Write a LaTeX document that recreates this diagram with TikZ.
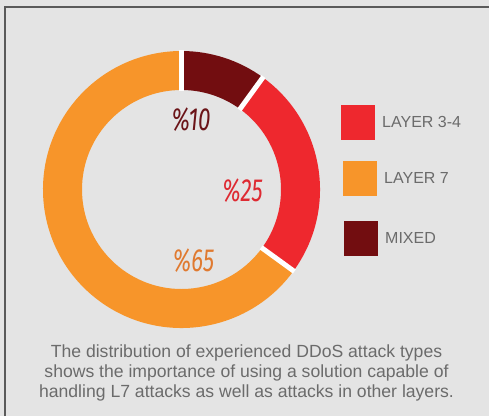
\documentclass[tikz,border=0pt]{standalone}
\usepackage{fontspec}
\setmainfont{Liberation Sans}
\newfontfamily\pctfont{Fira Sans}
\usepackage{graphicx}
\definecolor{bgGray}{HTML}{E4E4E4}
\definecolor{frameGray}{HTML}{5A5A5A}
\definecolor{textGray}{HTML}{6B6B6B}
\definecolor{segOrange}{HTML}{F7952A}
\definecolor{segRed}{HTML}{EE282E}
\definecolor{segDark}{HTML}{720D10}
\definecolor{pctDark}{HTML}{6B1418}
\definecolor{pctRed}{HTML}{DE2A32}
\definecolor{pctOrange}{HTML}{E07A30}
\begin{document}
\begin{tikzpicture}[x=1pt,y=1pt,
  legendbox/.style={minimum width=34pt,minimum height=35pt,inner sep=0pt,draw=none},
  legendtext/.style={anchor=west,inner sep=0pt,text=textGray,font=\fontsize{16}{18}\selectfont},
  pcttext/.style={inner sep=0pt,font=\pctfont\itshape\fontsize{32}{32}\selectfont},
  gapline/.style={white,line width=5pt}]
\def\rin{99.5}
\def\rout{138.5}
% page and frame
\fill[bgGray] (0,0) rectangle (489,416);
\useasboundingbox (0,0) rectangle (489,416);
\draw[frameGray,line width=1.3pt] (5,0) -- (5,409) -- (489,409);
% donut centre
\coordinate (c) at (181.5,226.5);
% ring segments (clockwise from the top)
\fill[segDark] ([shift={(90:\rout)}]c) arc[start angle=90,end angle=54,radius=\rout]
  -- ([shift={(54:\rin)}]c) arc[start angle=54,end angle=90,radius=\rin] -- cycle;
\fill[segRed] ([shift={(54:\rout)}]c) arc[start angle=54,end angle=-36,radius=\rout]
  -- ([shift={(-36:\rin)}]c) arc[start angle=-36,end angle=54,radius=\rin] -- cycle;
\fill[segOrange] ([shift={(-36:\rout)}]c) arc[start angle=-36,end angle=-270,radius=\rout]
  -- ([shift={(90:\rin)}]c) arc[start angle=90,end angle=324,radius=\rin] -- cycle;
% white separators between segments
\foreach \a in {90,54,-36}
  \draw[gapline] ([shift={(\a:\rin-1)}]c) -- ([shift={(\a:\rout+1)}]c);
% percentage labels
\node[pcttext,text=pctDark] (p10) at (191,296.5) {\scalebox{0.7}[1]{\%10}};
\node[pcttext,text=pctRed] (p25) at (242.5,225.5) {\scalebox{0.7}[1]{\%25}};
\node[pcttext,text=pctOrange] (p65) at (193.5,155.5) {\scalebox{0.7}[1]{\%65}};
% legend
\node[legendbox,fill=segRed] (l1) at (358,293.5) {};
\node[legendbox,fill=segOrange] (l2) at (360,237.5) {};
\node[legendbox,fill=segDark] (l3) at (361,177.5) {};
\node[legendtext] (t1) at (382,294) {LAYER 3-4};
\node[legendtext] (t2) at (384,238) {LAYER 7};
\node[legendtext] (t3) at (385,178) {MIXED};
% caption
\node[align=center,text=textGray,inner sep=0pt,font=\fontsize{17.6}{19.6}\selectfont] (cap) at (246.5,43)
  {The distribution of experienced DDoS attack types\\
   shows the importance of using a solution capable of\\
   handling L7 attacks as well as attacks in other layers.};
\end{tikzpicture}
\end{document}
